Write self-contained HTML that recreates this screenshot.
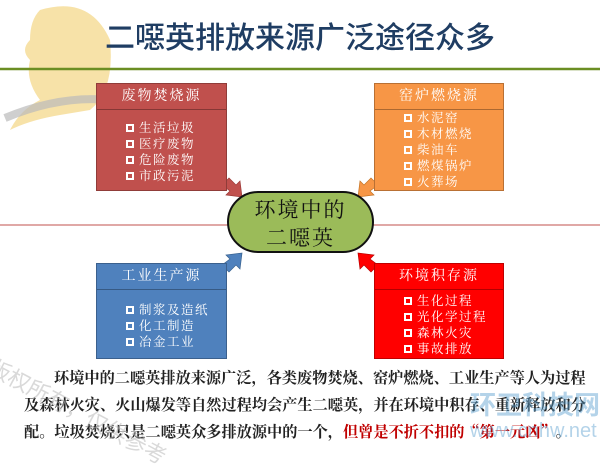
<!DOCTYPE html>
<html><head><meta charset="utf-8"><style>
body{margin:0;width:600px;height:450px;background:#fff;position:relative;overflow:hidden;font-family:"Liberation Serif","Noto Serif CJK SC","Noto Sans CJK SC",serif}
.a{position:absolute;white-space:nowrap}
.box{position:absolute;border:1px solid rgba(0,0,0,.25);color:#fff;box-sizing:border-box}
.hd{position:absolute;left:0;right:0;top:0;height:25px;border-bottom:1px solid rgba(0,0,0,.3);text-align:center;line-height:25px;font-size:14px;letter-spacing:2px}
.it{position:absolute;font-size:12.5px;line-height:16px;letter-spacing:1.5px;white-space:nowrap}
.it span{display:inline-block;width:8px;height:8px;border:2px solid #fff;box-sizing:border-box;margin-right:5px;vertical-align:-0px}
.bt{position:absolute;font-size:15.2px;white-space:nowrap;font-weight:bold;color:#222;font-family:"Noto Serif CJK SC",serif}
</style></head><body>
<svg class="a" style="left:0;top:0" width="600" height="450">
<path d="M40 10 Q90 -5 110 40 Q115 90 90 110 L60 115 Q30 120 10 130 Q20 110 40 100 Q25 80 30 60 Q20 50 30 40 Q30 20 40 10Z" fill="#f3d27a" opacity="0.65"/>
<path d="M5 118 Q60 95 110 100" stroke="#bbb" stroke-width="8" fill="none" opacity="0.7"/>
<line x1="0" y1="69" x2="600" y2="69" stroke="#6b8e23" stroke-width="2.5"/>
<line x1="0" y1="225" x2="600" y2="225" stroke="#c0504d" stroke-width="1"/>
<polygon points="222,185 229,178 236,185 240,181 242,197 226,195 230,191" fill="#c0504d" stroke="#9c3a37" stroke-width="0.7"/>
<polygon points="378,185 371,178 364,185 360,181 358,197 374,195 370,191" fill="#f79646" stroke="#c47324" stroke-width="0.7"/>
<polygon points="222,265 229,272 236,265 240,269 242,253 226,255 230,259" fill="#4f81bd" stroke="#38618f" stroke-width="0.7"/>
<polygon points="378,265 371,272 364,265 360,269 358,253 374,255 370,259" fill="#ff0000" stroke="#b00" stroke-width="0.7"/>
</svg>
<div class="a" style="left:50px;top:14px;width:500px;text-align:center;font-size:30px;color:#1f3d63;font-family:'Noto Sans CJK SC',sans-serif;font-weight:500;line-height:42px;letter-spacing:0px">二噁英排放来源广泛途径众多</div>

<div class="box" style="left:96px;top:83px;width:131px;height:108px;background:#c0504d">
<div class="hd">废物焚烧源</div>
<div class="it" style="left:29px;top:36px"><span></span>生活垃圾<br><span></span>医疗废物<br><span></span>危险废物<br><span></span>市政污泥</div></div>

<div class="box" style="left:374px;top:83px;width:130px;height:108px;background:#f79646">
<div class="hd">窑炉燃烧源</div>
<div class="it" style="left:29px;top:26px"><span></span>水泥窑<br><span></span>木材燃烧<br><span></span>柴油车<br><span></span>燃煤锅炉<br><span></span>火葬场</div></div>

<div class="box" style="left:96px;top:263px;width:131px;height:96px;background:#4f81bd">
<div class="hd">工业生产源</div>
<div class="it" style="left:29px;top:38px"><span></span>制浆及造纸<br><span></span>化工制造<br><span></span>冶金工业</div></div>

<div class="box" style="left:374px;top:263px;width:130px;height:96px;background:#ff0000">
<div class="hd">环境积存源</div>
<div class="it" style="left:29px;top:29px"><span></span>生化过程<br><span></span>光化学过程<br><span></span>森林火灾<br><span></span>事故排放</div></div>

<div class="a" style="left:227px;top:191px;width:147px;height:62px;box-sizing:border-box;border:2px solid #111;border-radius:31px;background:#9bbb59;text-align:center;font-size:21px;line-height:28px;padding-top:3px;letter-spacing:2px;color:#111">环境中的<br>二噁英</div>

<div class="bt" style="left:54px;top:367px">环境中的二噁英排放来源广泛，各类废物焚烧、窑炉燃烧、工业生产等人为过程</div>
<div class="bt" style="left:24px;top:394px">及森林火灾、火山爆发等自然过程均会产生二噁英，并在环境中积存、重新释放和分</div>
<div class="bt" style="left:24px;top:421px">配。垃圾焚烧只是二噁英众多排放源中的一个，<span style="color:#c00000">但曾是不折不扣的“第一元凶”</span>。</div>
<div class="a" style="left:-2px;top:350px;font-size:22px;color:#bbb;opacity:.55;transform:rotate(28deg);transform-origin:0 0;font-family:'Noto Sans CJK SC',sans-serif">版权所有，仅供参考</div>
<div class="a" style="left:470px;top:385px;font-size:26px;color:#5aa0d0;opacity:.45;font-family:'Noto Sans CJK SC',sans-serif;font-weight:bold">环卫科技网</div>
<div class="a" style="left:470px;top:420px;font-size:20px;color:#5aa0d0;opacity:.45;font-family:'Liberation Sans',sans-serif">www.cnhw.net</div>
</body></html>
